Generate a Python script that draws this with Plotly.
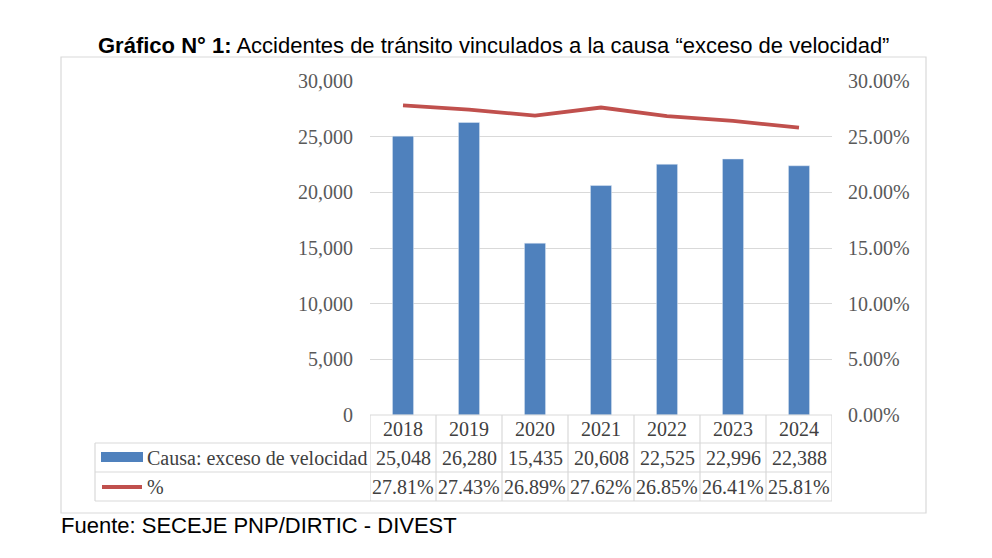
import plotly.graph_objects as go

years = ["2018", "2019", "2020", "2021", "2022", "2023", "2024"]
accidents = [25048, 26280, 15435, 20608, 22525, 22996, 22388]
percent = [27.81, 27.43, 26.89, 27.62, 26.85, 26.41, 25.81]

bar_name = "Causa: exceso de velocidad"
line_name = "%"
title_bold = "Gráfico N° 1:"
title_rest = " Accidentes de tránsito vinculados a la causa “exceso de velocidad”"
source = "Fuente: SECEJE PNP/DIRTIC - DIVEST"

BLUE = "#4F81BD"
RED = "#C0504D"
GRID = "#D9D9D9"
TICK = "#595959"
TXT = "#404040"
SERIF = "Liberation Serif"
SANS = "Liberation Sans, Arial"

W, H = 992, 558
L, R, T, B = 370, 832, 81, 415


def px(x):
    return (x - L) / (R - L)


def py(y):
    return (B - y) / (B - T)


fig = go.Figure()
fig.add_trace(go.Bar(x=years, y=accidents, marker_color=BLUE, name=bar_name,
                     showlegend=False))
fig.add_trace(go.Scatter(x=years, y=[p / 100 for p in percent], yaxis="y2",
                         mode="lines", line=dict(color=RED, width=3.8),
                         name=line_name, showlegend=False))

shapes = []
# outer frame
shapes.append(dict(type="rect", xref="paper", yref="paper",
                   x0=px(61), x1=px(926), y0=py(513), y1=py(57),
                   line=dict(color=GRID, width=1.2), layer="below"))
# table rows (horizontal lines)
row_top = py(415)
row1 = py(443)
row2 = py(472)
row3 = py(501)
n = len(years)
shapes.append(dict(type="line", xref="x", yref="paper", x0=-0.5, x1=n - 0.5,
                   y0=row_top, y1=row_top, line=dict(color=GRID, width=1.2)))
for yy in (row1, row2, row3):
    shapes.append(dict(type="line", xref="paper", yref="paper", x0=px(95), x1=1,
                       y0=yy, y1=yy, line=dict(color=GRID, width=1.2)))
# vertical lines
shapes.append(dict(type="line", xref="paper", yref="paper", x0=px(95), x1=px(95),
                   y0=row1, y1=row3, line=dict(color=GRID, width=1.2)))
for i in range(n + 1):
    shapes.append(dict(type="line", xref="x", yref="paper", x0=i - 0.5, x1=i - 0.5,
                       y0=row_top, y1=row3, line=dict(color=GRID, width=1.2)))
# legend keys
shapes.append(dict(type="rect", xref="paper", yref="paper", x0=px(101), x1=px(143),
                   y0=py(462), y1=py(452), fillcolor=BLUE, line=dict(width=0)))
shapes.append(dict(type="line", xref="paper", yref="paper", x0=px(102), x1=px(142),
                   y0=py(487), y1=py(487), line=dict(color=RED, width=4)))

ann = []
tfont = dict(family=SERIF, size=20, color=TXT)
for i, yr in enumerate(years):
    ann.append(dict(x=i, xref="x", y=(row_top + row1) / 2, yref="paper",
                    xanchor="center", yanchor="middle",
                    text=yr, showarrow=False, font=tfont))
    ann.append(dict(x=i, xref="x", y=(row1 + row2) / 2, yref="paper",
                    xanchor="center", yanchor="middle",
                    text=f"{accidents[i]:,}", showarrow=False, font=tfont))
    ann.append(dict(x=i, xref="x", y=(row2 + row3) / 2, yref="paper",
                    xanchor="center", yanchor="middle",
                    text=f"{percent[i]:.2f}%", showarrow=False, font=tfont))
ann.append(dict(x=px(145), xref="paper", y=(row1 + row2) / 2, yref="paper",
                xanchor="left", yanchor="middle", text=bar_name, showarrow=False,
                font=tfont))
ann.append(dict(x=px(145), xref="paper", y=(row2 + row3) / 2, yref="paper",
                xanchor="left", yanchor="middle", text=line_name, showarrow=False,
                font=tfont))
ann.append(dict(x=px(493), xref="paper", y=py(45), yref="paper", xanchor="center",
                yanchor="middle",
                text=f"<b>{title_bold}</b>{title_rest}", showarrow=False,
                font=dict(family=SANS, size=22, color="#000000")))
ann.append(dict(x=px(59), xref="paper", y=py(525), yref="paper", xanchor="left",
                yanchor="middle", text=source, showarrow=False,
                font=dict(family=SANS, size=22, color="#000000")))

fig.update_layout(
    width=W, height=H,
    margin=dict(l=L, r=W - R, t=T, b=H - B, autoexpand=False),
    paper_bgcolor="white", plot_bgcolor="white",
    bargap=0.68,
    xaxis=dict(type="category", range=[-0.5, n - 0.5], showticklabels=False,
               showgrid=False, zeroline=False, showline=False, fixedrange=True),
    yaxis=dict(range=[0, 30000], dtick=5000, tickformat=",d", showgrid=True,
               gridcolor=GRID, gridwidth=1, zeroline=False, showline=False,
               ticks="", ticklabelstandoff=16,
               tickfont=dict(family=SERIF, size=20, color=TICK)),
    yaxis2=dict(range=[0, 0.30], dtick=0.05, tickformat=".2%", overlaying="y",
                side="right", showgrid=False, zeroline=False, showline=False,
                ticks="", ticklabelstandoff=15,
                tickfont=dict(family=SERIF, size=20, color=TICK)),
    shapes=shapes,
    annotations=ann,
    showlegend=False,
)

fig.write_html("out.html", config={"displayModeBar": False},
               post_script="document.body.style.margin='0';document.body.style.overflow='hidden';")
